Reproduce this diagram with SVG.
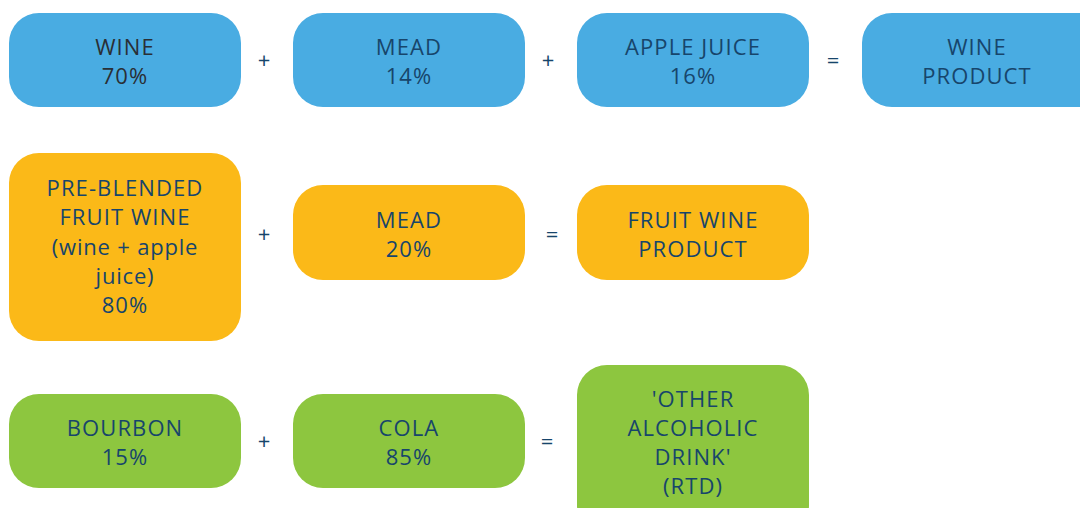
<svg xmlns="http://www.w3.org/2000/svg" width="1080" height="508" viewBox="0 0 1080 508">
<style>
.b{fill:#49ace2}.o{fill:#fbb918}.g{fill:#8dc63f}
text{font-family:"Open Sans","Liberation Sans",sans-serif;font-size:22px;fill:#17456b;text-anchor:middle;letter-spacing:1.1px}
.lc{letter-spacing:0.8px}
.op{font-size:22px;letter-spacing:0}
.dk{fill:#2a2f35}
</style>
<rect width="1080" height="508" fill="#fff"/>
<g id="n-wine"><rect class="b" x="9" y="13" width="232" height="94" rx="30"/><text class="dk" x="125" y="55">WINE</text><text class="dk" x="125" y="84">70%</text></g>
<g id="n-mead1"><rect class="b" x="293" y="13" width="232" height="94" rx="30"/><text x="409" y="55">MEAD</text><text x="409" y="84">14%</text></g>
<g id="n-apple"><rect class="b" x="577" y="13" width="232" height="94" rx="30"/><text x="693" y="55">APPLE JUICE</text><text x="693" y="84">16%</text></g>
<g id="n-wineproduct"><rect class="b" x="862" y="13" width="250" height="94" rx="30"/><text x="977" y="55">WINE</text><text x="977" y="84">PRODUCT</text></g>
<g id="n-preblended"><rect class="o" x="9" y="153" width="232" height="188" rx="30"/><text x="125" y="196">PRE-BLENDED</text><text x="125" y="225">FRUIT WINE</text><text class="lc" x="125" y="255">(wine + apple</text><text class="lc" x="125" y="284">juice)</text><text x="125" y="313">80%</text></g>
<g id="n-mead2"><rect class="o" x="293" y="185" width="232" height="95" rx="30"/><text x="409" y="228">MEAD</text><text x="409" y="257">20%</text></g>
<g id="n-fruitwine"><rect class="o" x="577" y="185" width="232" height="95" rx="30"/><text x="693" y="228">FRUIT WINE</text><text x="693" y="257">PRODUCT</text></g>
<g id="n-bourbon"><rect class="g" x="9" y="394" width="232" height="94" rx="30"/><text x="125" y="436">BOURBON</text><text x="125" y="465">15%</text></g>
<g id="n-cola"><rect class="g" x="293" y="394" width="232" height="94" rx="30"/><text x="409" y="436">COLA</text><text x="409" y="465">85%</text></g>
<g id="n-rtd"><rect class="g" x="577" y="365" width="232" height="170" rx="30"/><text x="693" y="407">'OTHER</text><text x="693" y="436">ALCOHOLIC</text><text x="693" y="465">DRINK'</text><text x="693" y="494">(RTD)</text></g>
<g id="connectors">
<text class="op" x="264" y="68">+</text><text class="op" x="548" y="68">+</text><text class="op" x="833" y="68">=</text>
<text class="op" x="264" y="242">+</text><text class="op" x="552" y="242">=</text>
<text class="op" x="264" y="449">+</text><text class="op" x="547" y="449">=</text>
</g>
</svg>
